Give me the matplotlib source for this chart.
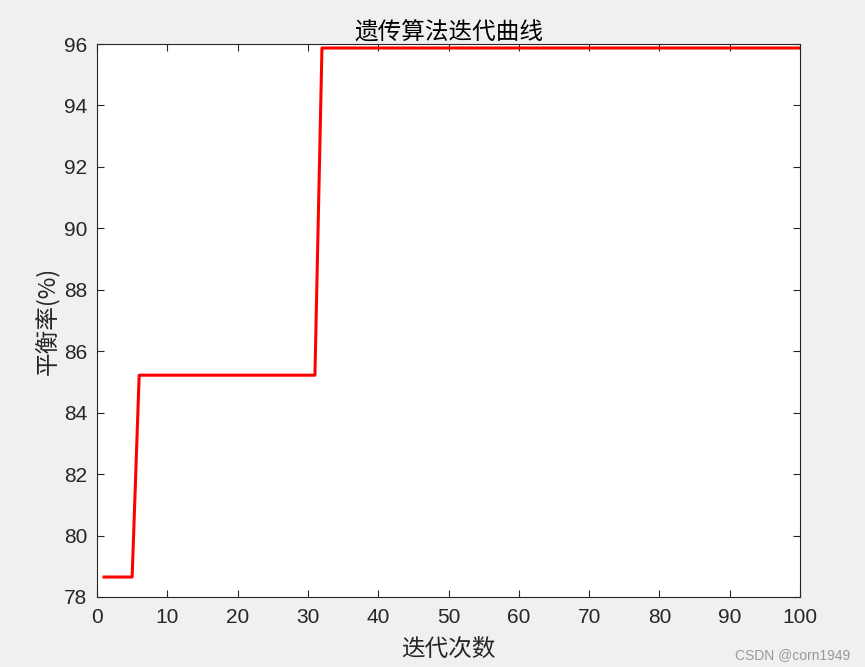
import matplotlib.pyplot as plt

plt.rcParams['font.family'] = ['Noto Sans CJK SC', 'DejaVu Sans']

# breakpoints of the best-fitness curve
iters = [1, 5, 6, 31, 32, 100]
balance = [78.65, 78.65, 85.22, 85.22, 95.87, 95.87]
x_ticks = [0, 10, 20, 30, 40, 50, 60, 70, 80, 90, 100]
y_ticks = [78, 80, 82, 84, 86, 88, 90, 92, 94, 96]

fig = plt.figure(figsize=(8.65, 6.67), dpi=100, facecolor='#f0f0f0')
ax = fig.add_axes([97 / 865, 1 - 597 / 667, 703 / 865, 553 / 667])
ax.plot(iters, balance, color='#ff0000', linewidth=2.2)

ax.set_xlim(0, 100)
ax.set_ylim(78, 96)
ax.set_xticks(x_ticks)
ax.set_yticks(y_ticks)
ax.tick_params(direction='in', top=True, right=True, length=5, width=0.8,
               colors='#262626', labelsize=15)
ax.tick_params(axis='x', pad=8)
ax.tick_params(axis='y', pad=7)
for lbl in ax.get_xticklabels() + ax.get_yticklabels():
    lbl.set_family(['Liberation Sans'])
for s in ax.spines.values():
    s.set_color('#262626')
    s.set_linewidth(0.8)

ax.set_title('遗传算法迭代曲线', fontsize=17, color='#000000', pad=3)
ax.set_xlabel('迭代次数', fontsize=17, color='#262626', labelpad=8)
ax.set_ylabel('平衡率(%)', fontsize=17, color='#262626', labelpad=3)

fig.text(0.983, 0.008, 'CSDN @corn1949', ha='right', va='bottom',
         fontsize=10, color='#999999', family=['Liberation Sans'])

fig.savefig('out.png', dpi=100, facecolor=fig.get_facecolor())
